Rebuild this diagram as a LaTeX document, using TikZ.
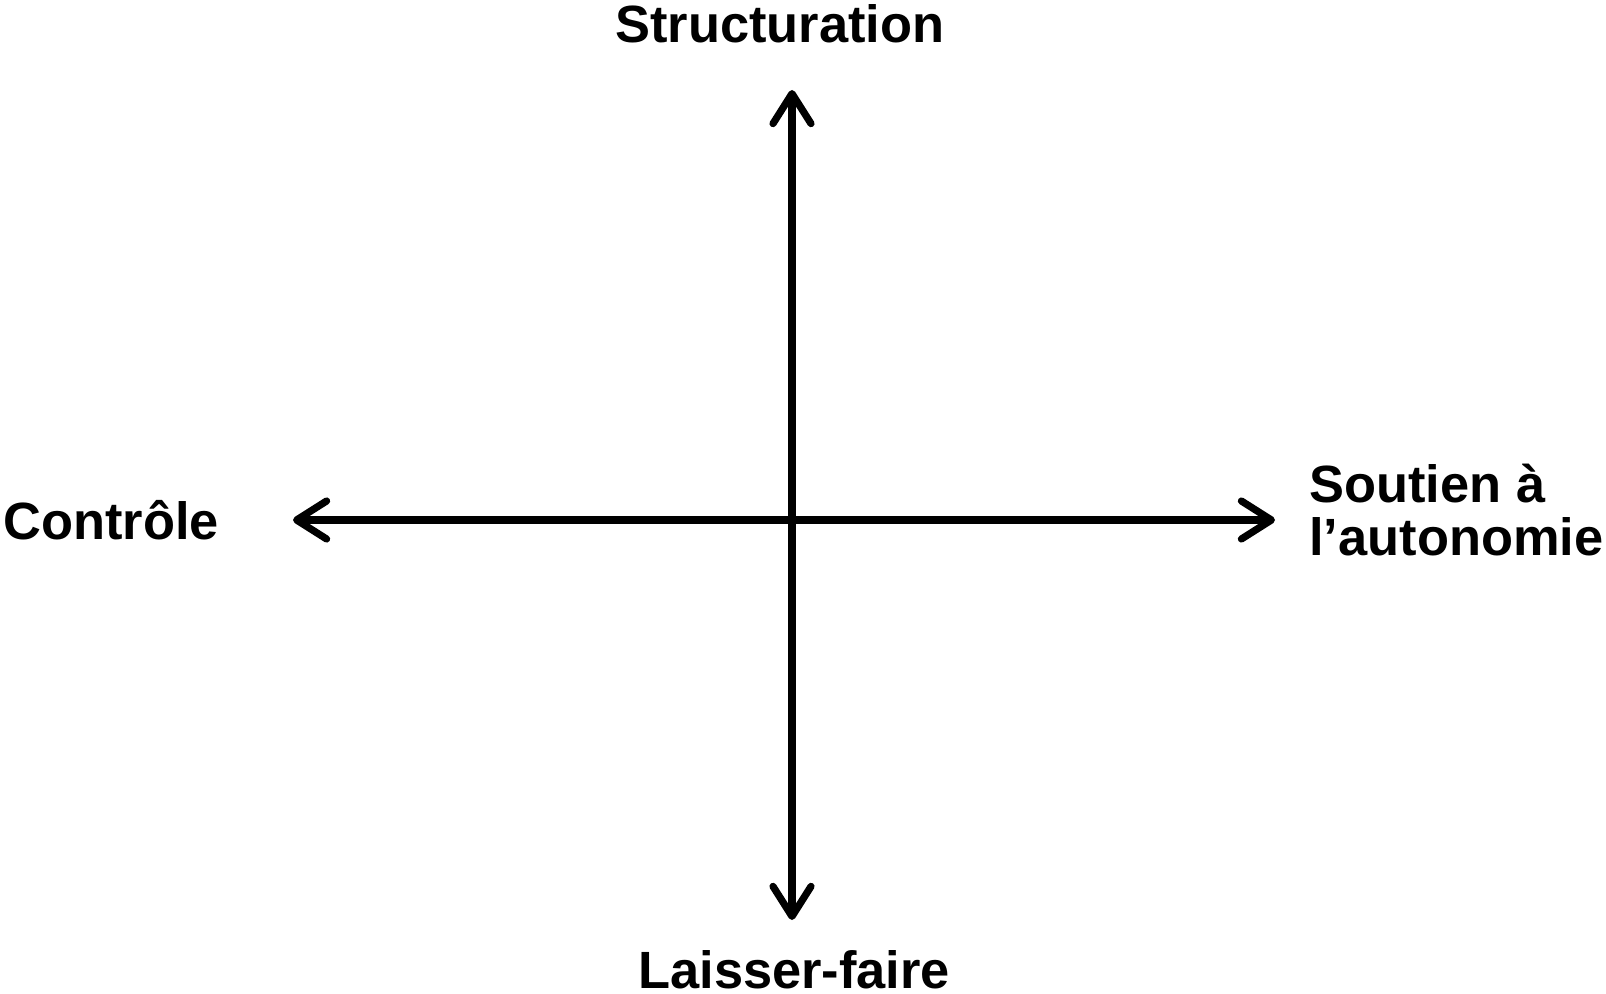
\documentclass[tikz,border=0pt]{standalone}
\usepackage{fontspec}
\setmainfont{Liberation Sans}
\usetikzlibrary{arrows.meta}
\tikzset{
  axis/.style={line width=3.6pt, {Straight Barb[round,length=15pt,width=19pt]}-{Straight Barb[round,length=15pt,width=19pt]}},
  lbl/.style={inner sep=0pt, font=\bfseries\fontsize{26.2}{26.5}\selectfont, text=black}
}
\begin{document}
\begin{tikzpicture}[x=0.5pt,y=-0.5pt]
\useasboundingbox (0,0) rectangle (1606,994);
\coordinate (top) at (792,90);
\coordinate (bot) at (792,920);
\coordinate (left) at (293,520);
\coordinate (right) at (1275,520);
\draw[axis] (bot) -- (top);
\draw[axis] (left) -- (right);
\node[lbl, anchor=base west] (struct) at (615,43) {Structuration};
\node[lbl, anchor=base west] (ctrl) at (3,539) {Contrôle};
\node[lbl, anchor=base west, align=left] (sout) at (1309,555) {Soutien à\\l’autonomie};
\node[lbl, anchor=base west] (laisser) at (638,988) {Laisser-faire};
\end{tikzpicture}
\end{document}
